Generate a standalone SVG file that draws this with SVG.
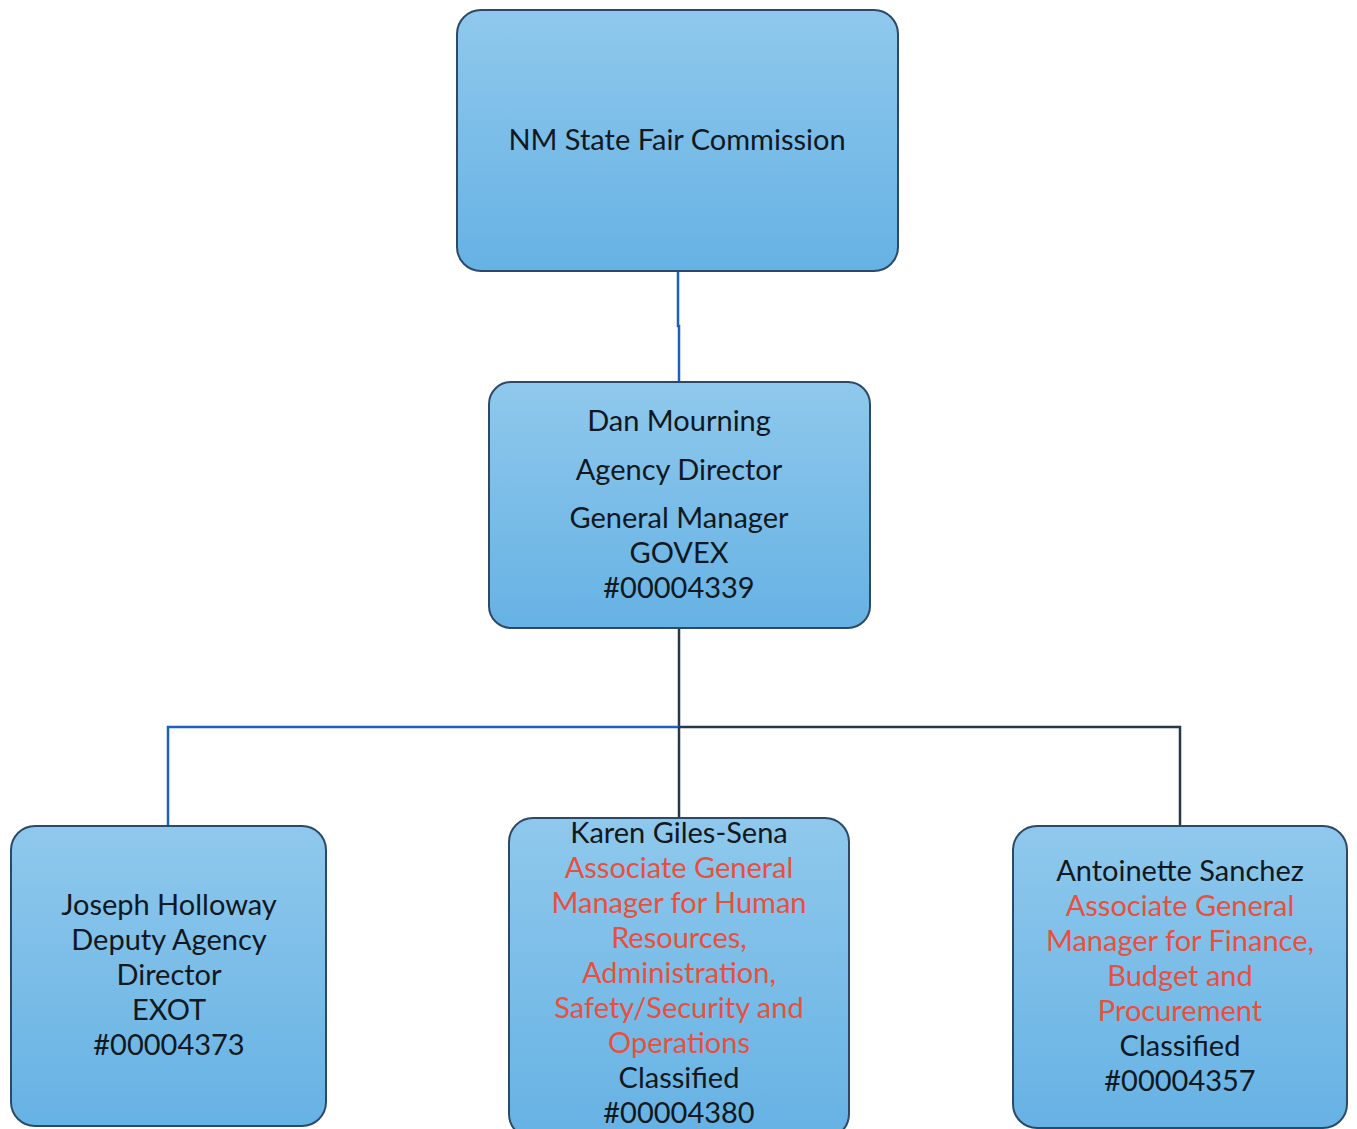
<svg xmlns="http://www.w3.org/2000/svg" width="1357" height="1129" viewBox="0 0 1357 1129">
<defs>
<linearGradient id="boxfill" x1="0" y1="0" x2="0" y2="1">
<stop offset="0" stop-color="#8fc8ec"/>
<stop offset="1" stop-color="#66b2e4"/>
</linearGradient>
<style>
.box{fill:url(#boxfill);stroke:#2c4a68;stroke-width:2}
.t{font-family:Lato,"Liberation Sans",sans-serif;font-size:29px;fill:#111820;text-anchor:middle}
.r{fill:#e8503e}
.cb{fill:none;stroke:#1d62b8;stroke-width:2.5}
.cd{fill:none;stroke:#27384c;stroke-width:2.5}
</style>
</defs>
<rect width="1357" height="1129" fill="#ffffff"/>
<g id="connectors">
<path class="cb" d="M678 271 V326 H679 V382"/>
<path class="cd" d="M679 628 V727"/>
<path class="cb" d="M679 727 H168 V826"/>
<path class="cd" d="M679 727 H1180 V826"/>
<path class="cd" d="M679 727 V818"/>
</g>
<g id="commission">
<rect class="box" x="457" y="10" width="441" height="261" rx="24"/>
<text class="t" x="677" y="150">NM State Fair Commission</text>
</g>
<g id="director">
<rect class="box" x="489" y="382" width="381" height="246" rx="22"/>
<text class="t" x="679" y="431">Dan Mourning</text>
<text class="t" x="679" y="480">Agency Director</text>
<text class="t" x="679" y="528">General Manager</text>
<text class="t" x="679" y="563">GOVEX</text>
<text class="t" x="679" y="598">#00004339</text>
</g>
<g id="deputy">
<rect class="box" x="11" y="826" width="315" height="300" rx="24"/>
<text class="t" x="169" y="915">Joseph Holloway</text>
<text class="t" x="169" y="950">Deputy Agency</text>
<text class="t" x="169" y="985">Director</text>
<text class="t" x="169" y="1020">EXOT</text>
<text class="t" x="169" y="1055">#00004373</text>
</g>
<g id="hr">
<rect class="box" x="509" y="818" width="340" height="320" rx="24"/>
<text class="t" x="679" y="843">Karen Giles-Sena</text>
<text class="t r" x="679" y="878">Associate General</text>
<text class="t r" x="679" y="913">Manager for Human</text>
<text class="t r" x="679" y="948">Resources,</text>
<text class="t r" x="679" y="983">Administration,</text>
<text class="t r" x="679" y="1018">Safety/Security and</text>
<text class="t r" x="679" y="1053">Operations</text>
<text class="t" x="679" y="1088">Classified</text>
<text class="t" x="679" y="1123">#00004380</text>
</g>
<g id="finance">
<rect class="box" x="1013" y="826" width="334" height="302" rx="24"/>
<text class="t" x="1180" y="881">Antoinette Sanchez</text>
<text class="t r" x="1180" y="916">Associate General</text>
<text class="t r" x="1180" y="951">Manager for Finance,</text>
<text class="t r" x="1180" y="986">Budget and</text>
<text class="t r" x="1180" y="1021">Procurement</text>
<text class="t" x="1180" y="1056">Classified</text>
<text class="t" x="1180" y="1091">#00004357</text>
</g>
</svg>
